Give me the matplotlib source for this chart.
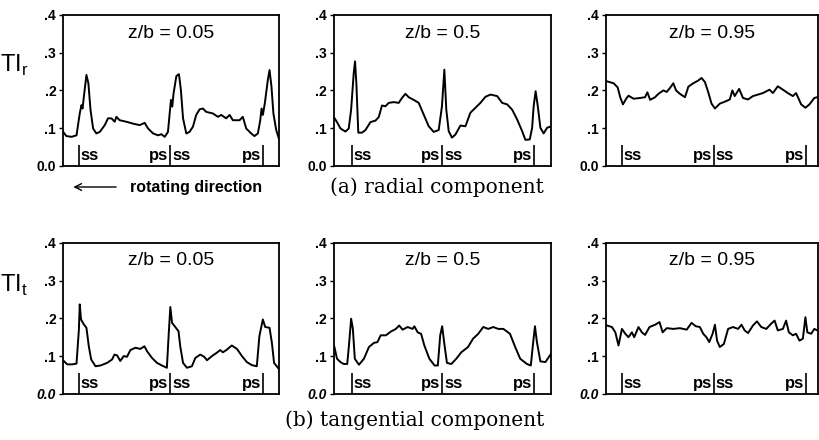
import matplotlib
matplotlib.use('Agg')
import matplotlib.pyplot as plt

plt.rcParams['font.family'] = ['Liberation Sans', 'DejaVu Sans']
plt.rcParams['mathtext.fontset'] = 'custom'
plt.rcParams['mathtext.rm'] = 'Liberation Sans'

# circumferential position (fraction of window) and turbulence intensity
# radial component, z/b = 0.05
x_r1 = [0.000, 0.015, 0.039, 0.062, 0.077, 0.085, 0.090, 0.096, 0.108, 0.117, 0.127, 0.139, 0.154,
        0.170, 0.193, 0.208, 0.224, 0.239, 0.247, 0.262, 0.293, 0.324, 0.355, 0.378, 0.394, 0.417,
        0.440, 0.455, 0.471, 0.486, 0.494, 0.500, 0.506, 0.512, 0.525, 0.537, 0.546, 0.556, 0.571,
        0.586, 0.602, 0.617, 0.633, 0.648, 0.664, 0.694, 0.718, 0.733, 0.756, 0.772, 0.787, 0.818,
        0.833, 0.849, 0.872, 0.887, 0.903, 0.914, 0.920, 0.926, 0.935, 0.949, 0.957, 0.966, 0.975,
        0.988, 1.000]
ti_r1 = [0.090, 0.079, 0.077, 0.081, 0.139, 0.161, 0.152, 0.183, 0.241, 0.219, 0.148, 0.099, 0.086,
         0.090, 0.108, 0.126, 0.126, 0.117, 0.130, 0.121, 0.117, 0.112, 0.108, 0.114, 0.099, 0.086,
         0.081, 0.084, 0.077, 0.090, 0.139, 0.175, 0.157, 0.192, 0.238, 0.243, 0.201, 0.126, 0.086,
         0.090, 0.104, 0.135, 0.150, 0.152, 0.143, 0.139, 0.130, 0.135, 0.126, 0.135, 0.121, 0.121,
         0.130, 0.099, 0.086, 0.079, 0.086, 0.121, 0.152, 0.135, 0.165, 0.227, 0.254, 0.210, 0.139,
         0.095, 0.073]

# radial component, z/b = 0.5
x_r2 = [0.003, 0.015, 0.031, 0.054, 0.069, 0.080, 0.092, 0.098, 0.104, 0.113, 0.130, 0.146, 0.169,
        0.192, 0.207, 0.222, 0.238, 0.253, 0.276, 0.299, 0.314, 0.330, 0.345, 0.368, 0.391, 0.414,
        0.437, 0.460, 0.483, 0.498, 0.509, 0.518, 0.529, 0.544, 0.560, 0.583, 0.606, 0.629, 0.652,
        0.675, 0.698, 0.721, 0.752, 0.775, 0.798, 0.821, 0.844, 0.867, 0.882, 0.902, 0.913, 0.920,
        0.929, 0.939, 0.951, 0.966, 0.982, 1.000]
ti_r2 = [0.127, 0.116, 0.099, 0.091, 0.099, 0.149, 0.246, 0.277, 0.220, 0.088, 0.088, 0.095, 0.116,
         0.120, 0.129, 0.160, 0.158, 0.167, 0.169, 0.167, 0.180, 0.191, 0.182, 0.175, 0.167, 0.136,
         0.105, 0.090, 0.095, 0.158, 0.255, 0.149, 0.092, 0.075, 0.083, 0.107, 0.105, 0.141, 0.154,
         0.167, 0.183, 0.189, 0.185, 0.167, 0.163, 0.149, 0.123, 0.092, 0.069, 0.070, 0.101, 0.158,
         0.198, 0.158, 0.101, 0.086, 0.101, 0.105]

# radial component, z/b = 0.95
x_r3 = [0.005, 0.036, 0.055, 0.067, 0.080, 0.095, 0.106, 0.130, 0.161, 0.184, 0.195, 0.208, 0.231,
        0.247, 0.270, 0.286, 0.302, 0.317, 0.330, 0.348, 0.372, 0.388, 0.411, 0.434, 0.450, 0.466,
        0.481, 0.497, 0.513, 0.536, 0.559, 0.583, 0.595, 0.606, 0.627, 0.645, 0.669, 0.692, 0.716,
        0.739, 0.770, 0.786, 0.809, 0.833, 0.856, 0.880, 0.895, 0.919, 0.939, 0.958, 0.981, 0.995]
ti_r3 = [0.224, 0.219, 0.208, 0.182, 0.163, 0.178, 0.186, 0.178, 0.180, 0.182, 0.195, 0.175, 0.182,
         0.191, 0.200, 0.196, 0.207, 0.219, 0.200, 0.191, 0.182, 0.210, 0.219, 0.226, 0.233, 0.222,
         0.196, 0.165, 0.152, 0.165, 0.170, 0.176, 0.200, 0.185, 0.204, 0.180, 0.176, 0.185, 0.189,
         0.193, 0.202, 0.193, 0.211, 0.202, 0.193, 0.185, 0.193, 0.163, 0.154, 0.163, 0.180, 0.182]

# tangential component, z/b = 0.05
x_t1 = [0.003, 0.019, 0.042, 0.062, 0.073, 0.077, 0.083, 0.096, 0.108, 0.119, 0.130, 0.150, 0.173,
        0.204, 0.227, 0.238, 0.250, 0.265, 0.281, 0.296, 0.312, 0.335, 0.358, 0.377, 0.389, 0.412,
        0.435, 0.458, 0.481, 0.489, 0.497, 0.505, 0.520, 0.535, 0.543, 0.556, 0.574, 0.597, 0.613,
        0.636, 0.654, 0.667, 0.690, 0.713, 0.728, 0.741, 0.759, 0.782, 0.806, 0.829, 0.852, 0.875,
        0.898, 0.910, 0.926, 0.937, 0.957, 0.968, 0.978, 1.000]
ti_t1 = [0.087, 0.078, 0.078, 0.080, 0.170, 0.237, 0.197, 0.184, 0.175, 0.126, 0.091, 0.073, 0.075,
         0.082, 0.091, 0.104, 0.102, 0.087, 0.100, 0.098, 0.116, 0.122, 0.119, 0.126, 0.113, 0.095,
         0.082, 0.075, 0.069, 0.153, 0.230, 0.188, 0.177, 0.166, 0.126, 0.082, 0.069, 0.073, 0.095,
         0.104, 0.098, 0.089, 0.100, 0.109, 0.116, 0.110, 0.117, 0.128, 0.119, 0.100, 0.084, 0.076,
         0.073, 0.153, 0.197, 0.177, 0.175, 0.135, 0.082, 0.066]

# tangential component, z/b = 0.5
x_t2 = [0.003, 0.015, 0.031, 0.046, 0.062, 0.070, 0.080, 0.088, 0.097, 0.116, 0.139, 0.162, 0.185,
        0.201, 0.216, 0.240, 0.263, 0.286, 0.301, 0.317, 0.340, 0.363, 0.371, 0.386, 0.402, 0.417,
        0.440, 0.464, 0.479, 0.490, 0.499, 0.510, 0.521, 0.541, 0.564, 0.587, 0.618, 0.641, 0.665,
        0.688, 0.711, 0.734, 0.757, 0.781, 0.811, 0.835, 0.858, 0.889, 0.907, 0.917, 0.926, 0.935,
        0.951, 0.974, 1.000]
ti_t2 = [0.124, 0.093, 0.084, 0.079, 0.079, 0.128, 0.199, 0.172, 0.093, 0.077, 0.093, 0.124, 0.135,
         0.137, 0.155, 0.155, 0.165, 0.172, 0.181, 0.170, 0.177, 0.172, 0.179, 0.163, 0.159, 0.128,
         0.093, 0.075, 0.075, 0.155, 0.179, 0.128, 0.082, 0.079, 0.093, 0.110, 0.124, 0.146, 0.159,
         0.177, 0.172, 0.177, 0.172, 0.172, 0.159, 0.124, 0.093, 0.079, 0.075, 0.132, 0.179, 0.137,
         0.086, 0.084, 0.106]

# tangential component, z/b = 0.95
x_t3 = [0.005, 0.028, 0.044, 0.059, 0.075, 0.091, 0.106, 0.122, 0.133, 0.153, 0.169, 0.184, 0.205,
        0.231, 0.252, 0.267, 0.286, 0.317, 0.348, 0.380, 0.403, 0.423, 0.442, 0.458, 0.473, 0.486,
        0.502, 0.513, 0.523, 0.536, 0.555, 0.575, 0.598, 0.622, 0.638, 0.653, 0.669, 0.692, 0.711,
        0.731, 0.755, 0.778, 0.794, 0.809, 0.833, 0.848, 0.861, 0.880, 0.895, 0.911, 0.927, 0.939,
        0.948, 0.966, 0.981, 0.995]
ti_t3 = [0.181, 0.177, 0.163, 0.128, 0.172, 0.159, 0.150, 0.163, 0.150, 0.177, 0.163, 0.156, 0.177,
         0.183, 0.190, 0.163, 0.174, 0.172, 0.174, 0.170, 0.188, 0.179, 0.177, 0.159, 0.150, 0.137,
         0.159, 0.183, 0.141, 0.124, 0.132, 0.172, 0.177, 0.172, 0.183, 0.168, 0.161, 0.181, 0.192,
         0.177, 0.172, 0.186, 0.194, 0.168, 0.172, 0.194, 0.163, 0.155, 0.159, 0.141, 0.146, 0.203,
         0.163, 0.159, 0.172, 0.168]

zb_labels = ['z/b = 0.05', 'z/b = 0.5', 'z/b = 0.95']
# blade surface positions (ss / ps|ss / ps) in each column
blade_marks = [[0.073, 0.497, 0.926], [0.085, 0.500, 0.920], [0.075, 0.508, 0.942]]
y_ticks = [0.0, 0.1, 0.2, 0.3, 0.4]
y_ticklabels = ['0.0', '.1', '.2', '.3', '.4']

rows = [[(x_r1, ti_r1), (x_r2, ti_r2), (x_r3, ti_r3)],
        [(x_t1, ti_t1), (x_t2, ti_t2), (x_t3, ti_t3)]]

fig = plt.figure(figsize=(8.2, 4.4), dpi=100)

lefts = [0.077, 0.407, 0.739]
widths = [0.263, 0.265, 0.259]
bottoms = [0.623, 0.105]
height = 0.343

for r, row in enumerate(rows):
    for c, (xs, ys) in enumerate(row):
        ax = fig.add_axes([lefts[c], bottoms[r], widths[c], height])
        ax.plot(xs, ys, color='black', lw=1.4)
        ax.set_xlim(0, 1)
        ax.set_ylim(0, 0.4)
        ax.set_xticks([])
        ax.set_yticks(y_ticks)
        ax.set_yticklabels(y_ticklabels, fontsize=10, fontweight='bold')
        if r == 1:
            ax.get_yticklabels()[0].set_fontstyle('italic')
        ax.tick_params(axis='y', direction='out', length=3, width=1, pad=2)
        for s in ax.spines.values():
            s.set_linewidth(1.3)
        ax.text(0.5, 0.352, zb_labels[c], ha='center', va='center', fontsize=14)

        # blade surface markers
        m1, m2, m3 = blade_marks[c]
        ax.vlines([m1, m2, m3], 0, 0.055, color='black', lw=1.2)
        ax.text(m1 + 0.008, 0.027, 'ss', ha='left', va='center', fontsize=12, fontweight='bold')
        ax.text(m2 - 0.008, 0.027, 'ps', ha='right', va='center', fontsize=12, fontweight='bold')
        ax.text(m2 + 0.008, 0.027, 'ss', ha='left', va='center', fontsize=12, fontweight='bold')
        ax.text(m3 - 0.008, 0.027, 'ps', ha='right', va='center', fontsize=12, fontweight='bold')

# axis labels
fig.text(0.0, 0.852, r'TI$_\mathrm{r}$', fontsize=17, ha='left', va='center')
fig.text(0.0, 0.352, r'TI$_\mathrm{t}$', fontsize=17, ha='left', va='center')

# rotating direction arrow
fig.patches.append(matplotlib.patches.FancyArrowPatch(
    (0.145, 0.575), (0.086, 0.575), transform=fig.transFigure,
    arrowstyle='->', mutation_scale=12, lw=1.0, color='black'))
fig.text(0.158, 0.573, 'rotating direction', fontsize=11.5, fontweight='bold',
         ha='left', va='center')

# captions
fig.text(0.533, 0.575, '(a) radial component', family='DejaVu Serif', fontsize=14.5,
         ha='center', va='center')
fig.text(0.506, 0.045, '(b) tangential component', family='DejaVu Serif', fontsize=14.5,
         ha='center', va='center')

fig.savefig('out.png', dpi=100)
